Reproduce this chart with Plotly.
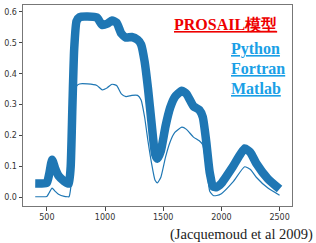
import plotly.graph_objects as go

wavelength = [400, 450, 500, 520, 545, 570, 600, 650, 680, 690, 705, 720, 735, 755, 780, 850, 930, 975,
              1020, 1060, 1100, 1140, 1180, 1230, 1280, 1310, 1340, 1370, 1400, 1430, 1450, 1480,
              1520, 1560, 1600, 1660, 1700, 1760, 1810, 1840, 1870, 1900, 1930, 1960, 2000, 2100,
              2200, 2250, 2300, 2400, 2500]

refl_thick = [0.045, 0.045, 0.047, 0.075, 0.122, 0.095, 0.07, 0.052, 0.045, 0.045, 0.1, 0.3, 0.48, 0.57,
              0.583, 0.585, 0.582, 0.558, 0.562, 0.572, 0.565, 0.53, 0.517, 0.519, 0.51, 0.495, 0.44,
              0.35, 0.24, 0.14, 0.125, 0.15, 0.23, 0.29, 0.325, 0.345, 0.335, 0.295, 0.283, 0.26, 0.18,
              0.08, 0.035, 0.033, 0.045, 0.1, 0.158, 0.145, 0.11, 0.06, 0.027]

refl_thin = [0.002, 0.002, 0.003, 0.015, 0.03, 0.02, 0.01, 0.003, 0.002, 0.002, 0.03, 0.15, 0.3, 0.36,
             0.367, 0.367, 0.362, 0.348, 0.355, 0.366, 0.362, 0.335, 0.326, 0.33, 0.33, 0.315, 0.26,
             0.18, 0.11, 0.055, 0.047, 0.065, 0.13, 0.18, 0.21, 0.227, 0.22, 0.195, 0.183, 0.17, 0.1,
             0.02, 0.006, 0.006, 0.012, 0.05, 0.099, 0.09, 0.065, 0.03, 0.007]

x_ticks = [500, 1000, 1500, 2000, 2500]
y_ticks = [0.0, 0.1, 0.2, 0.3, 0.4, 0.5, 0.6]
y_tick_text = ["0.0", "0.1", "0.2", "0.3", "0.4", "0.5", "0.6"]

blue = "#1f77b4"
fig = go.Figure()
fig.add_trace(go.Scatter(x=wavelength, y=refl_thick, mode="lines",
                         line=dict(color=blue, width=8.5, shape="spline", smoothing=0.5)))
fig.add_trace(go.Scatter(x=wavelength, y=refl_thin, mode="lines",
                         line=dict(color=blue, width=1.2, shape="spline", smoothing=0.5)))

axis_common = dict(showgrid=False, zeroline=False, showline=True, mirror=True,
                   linecolor="#777", linewidth=1, ticks="outside", ticklen=3.5,
                   tickcolor="#444", tickfont=dict(family="DejaVu Sans", size=8, color="#333"))
fig.update_xaxes(range=[295, 2607], tickvals=x_ticks, **axis_common)
fig.update_yaxes(range=[-0.028, 0.6225], tickvals=y_ticks, ticktext=y_tick_text, **axis_common)

serif = "Liberation Serif"
light_blue = "#1a9fe6"
ann = [
    dict(text="<u><b>PROSAIL模型</b></u>", x=0.555, y=0.901, color="#ee0000", size=16),
    dict(text="<u><b>Python</b></u>", x=0.766, y=0.781, color=light_blue, size=16),
    dict(text="<u><b>Fortran</b></u>", x=0.766, y=0.682, color=light_blue, size=16),
    dict(text="<u><b>Matlab</b></u>", x=0.766, y=0.583, color=light_blue, size=16),
]
for a in ann:
    fig.add_annotation(text=a["text"], x=a["x"], y=a["y"], xref="paper", yref="paper",
                       xanchor="left", yanchor="middle", showarrow=False,
                       font=dict(family=serif, size=a["size"], color=a["color"]))
fig.add_annotation(text="(Jacquemoud et al 2009)", x=1.087, y=-0.144, xref="paper", yref="paper",
                   xanchor="right", yanchor="middle", showarrow=False,
                   font=dict(family=serif, size=14.5, color="#222"))

fig.update_layout(width=316, height=243, margin=dict(l=18, r=24, t=4, b=37),
                  paper_bgcolor="white", plot_bgcolor="white", showlegend=False)
fig.write_html("out.html")
